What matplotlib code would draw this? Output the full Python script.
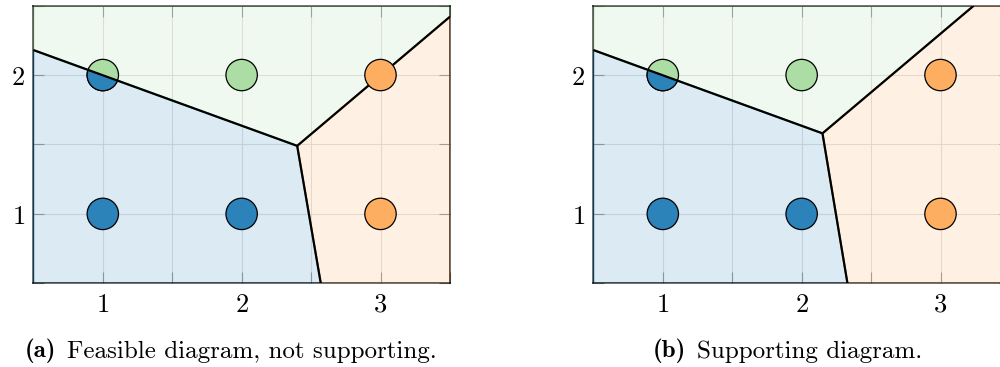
import numpy as np
import matplotlib.pyplot as plt
from matplotlib.patches import Polygon, Circle

plt.rcParams['mathtext.fontset'] = 'cm'

# sample points and their class colours
px = [1, 2, 3, 1, 2, 3]
py = [1, 1, 1, 2, 2, 2]
pcls = ['blue', 'blue', 'orange', 'split', 'green', 'orange']

colors = {'blue': '#2b83ba', 'green': '#abdda4', 'orange': '#fdae61'}

# cell boundaries: centre vertex and three end points
vertex_a = (2.40, 1.49)
ends_a = [(0.5, 2.18), (3.5, 2.42), (2.57, 0.5)]
vertex_b = (2.15, 1.58)
ends_b = [(0.5, 2.18), (3.24, 2.5), (2.33, 0.5)]

labels = ['(a)', '(b)']
captions = ['Feasible diagram, not supporting.', 'Supporting diagram.']

x0, x1, y0, y1 = 0.5, 3.5, 0.5, 2.5


def cells(v, ends):
    left, upper, bottom = ends
    blue = [(x0, y0), left, v, bottom]
    if upper[0] >= x1:
        green = [left, (x0, y1), (x1, y1), upper, v]
        orange = [v, upper, (x1, y0), bottom]
    else:
        green = [left, (x0, y1), upper, v]
        orange = [v, upper, (x1, y1), (x1, y0), bottom]
    return {'blue': blue, 'green': green, 'orange': orange}


def panel(ax, v, ends):
    regs = cells(v, ends)
    polys = {}
    for name, pts in regs.items():
        p = Polygon(pts, closed=True, facecolor=colors[name], alpha=0.17,
                    edgecolor='none', zorder=1)
        ax.add_patch(p)
        ax.add_patch(Polygon(pts, closed=True, fill=False, edgecolor=colors[name],
                             lw=1.3, zorder=1.1))
        polys[name] = p
    for e in ends:
        ax.plot([v[0], e[0]], [v[1], e[1]], color='black', lw=1.6, zorder=3,
                solid_capstyle='butt')
    for x, y, c in zip(px, py, pcls):
        if c == 'split':
            ax.add_patch(Circle((x, y), 0.113, facecolor=colors['green'],
                                edgecolor='black', lw=0.9, zorder=2.5))
            blue_half = Circle((x, y), 0.113, facecolor=colors['blue'],
                               edgecolor='black', lw=0.9, zorder=2.6)
            ax.add_patch(blue_half)
            blue_half.set_clip_path(polys['blue'])
        else:
            ax.add_patch(Circle((x, y), 0.113, facecolor=colors[c],
                                edgecolor='black', lw=0.9, zorder=4))
    ax.set_xlim(x0, x1)
    ax.set_ylim(y0, y1)
    ax.set_aspect('equal')
    ax.set_xticks([1, 2, 3])
    ax.set_yticks([1, 2])
    ax.set_xticklabels([r'$1$', r'$2$', r'$3$'])
    ax.set_yticklabels([r'$1$', r'$2$'])
    ax.set_xticks(np.arange(0.5, 3.6, 0.5), minor=True)
    ax.set_yticks(np.arange(0.5, 2.6, 0.5), minor=True)
    ax.grid(True, which='both', color='#dadada', lw=0.8, alpha=0.8)
    ax.set_axisbelow(True)
    ax.tick_params(which='both', direction='in', top=True, right=True,
                   color='#999999', length=8, width=0.8, labelsize=19, pad=6)
    for s in ax.spines.values():
        s.set_color('black')
        s.set_alpha(0.6)
        s.set_linewidth(1.3)
        s.set_zorder(5)


fig = plt.figure(figsize=(10, 3.67), dpi=100)
ax_a = fig.add_axes([0.0333, 0.228, 0.4167, 0.7567])
ax_b = fig.add_axes([0.5933, 0.228, 0.4167, 0.7567])
panel(ax_a, vertex_a, ends_a)
panel(ax_b, vertex_b, ends_b)

# captions: bold label followed by roman text, placed from the left
for lab, cap, xs in zip(labels, captions, [0.025, 0.653]):
    t = fig.text(xs, 0.027, lab, ha='left', va='baseline', fontsize=18,
                 family='cmb10')
    fig.add_artist(plt.Annotation(cap, xy=(1, 0), xycoords=t,
                                  xytext=(8, 0), textcoords='offset points',
                                  va='bottom', ha='left', fontsize=18,
                                  family='cmr10'))

fig.savefig('out.png', dpi=100)
